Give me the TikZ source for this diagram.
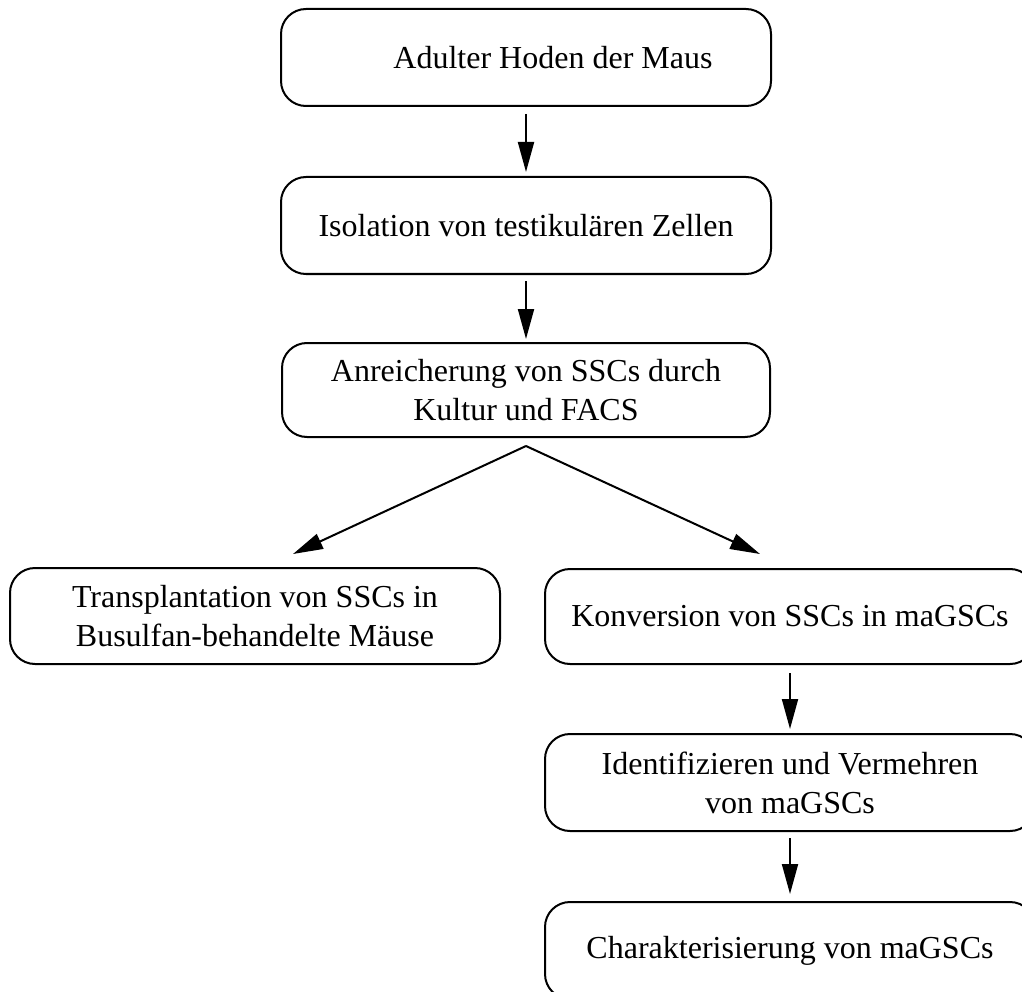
\documentclass[tikz,border=0pt]{standalone}
\usepackage{fontspec}
\setmainfont{Liberation Serif}
\usetikzlibrary{arrows.meta}
\begin{document}
\begin{tikzpicture}[x=1pt,y=-1pt,
  box/.style={draw, line width=2pt, rounded corners=25pt, minimum width=490pt,
    minimum height=97pt, align=center, inner sep=0pt,
    font=\fontsize{32}{39}\selectfont},
  arr/.style={line width=2pt, -{Triangle[length=30pt,width=16pt]}}]
\useasboundingbox (0,0) rectangle (1022,992);
\begin{scope}
\clip (0,0) rectangle (1022,992);
\node[box] (b1) at (526,57.5) {\hspace*{54pt}Adulter Hoden der Maus};
\node[box] (b2) at (526,225.5) {Isolation von testikulären Zellen};
\node[box, minimum width=488pt, minimum height=94pt] (b3) at (526,390) {Anreicherung von SSCs durch\\Kultur und FACS};
\node[box, minimum height=96pt] (b4) at (255,616) {Transplantation von SSCs in\\Busulfan-behandelte Mäuse};
\node[box, minimum height=95pt] (b5) at (790,616.5) {\raisebox{-6pt}{Konversion von SSCs in maGSCs}};
\node[box] (b6) at (790,782.5) {Identifizieren und Vermehren\\von maGSCs};
\node[box] (b7) at (790,950.5) {\raisebox{-3pt}{Charakterisierung von maGSCs}};
\end{scope}
\draw[arr, shorten <=7pt, shorten >=4pt] (b1.south) -- (b2.north);
\draw[arr, shorten <=6pt, shorten >=3pt] (b2.south) -- (b3.north);
\draw[arr, shorten <=8pt, shorten >=4pt] (b5.south) -- (b6.north);
\draw[arr, shorten <=6pt, shorten >=7pt] (b6.south) -- (b7.north);
\coordinate (fork) at (526,446);
\coordinate (lt) at (293,554);
\coordinate (rt) at (760,554);
\draw[arr] (fork) -- (lt);
\draw[arr] (fork) -- (rt);
\end{tikzpicture}
\end{document}
